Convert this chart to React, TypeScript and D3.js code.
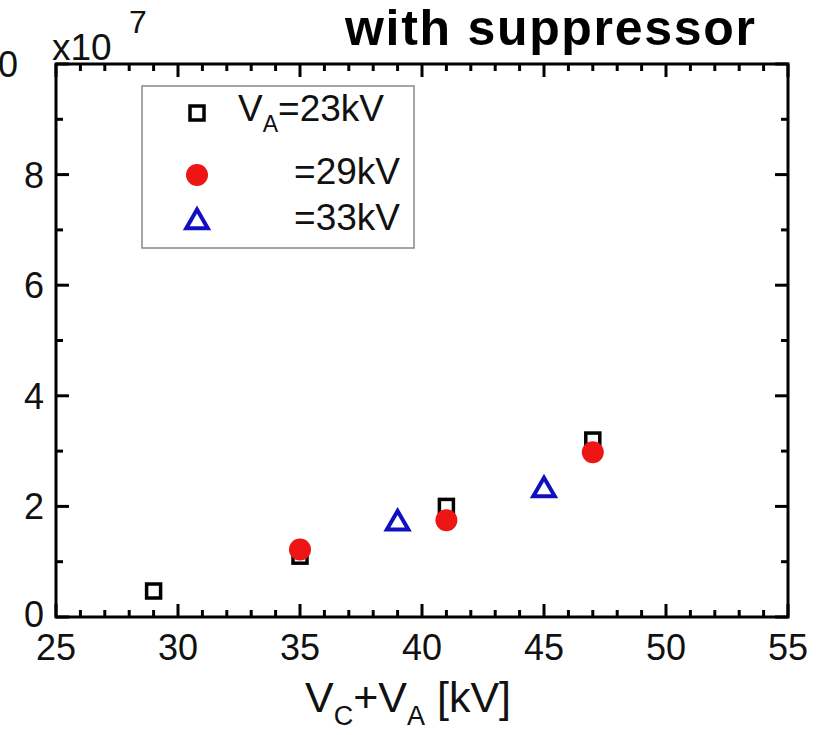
import React from 'react';
import * as d3 from 'd3';

// values (y in units of 1e7)
const va23X = [29, 35, 41, 47];
const va23Y = [0.47, 1.1, 2.0, 3.2];
const va29X = [35, 41, 47];
const va29Y = [1.22, 1.75, 2.98];
const va33X = [39, 45];
const va33Y = [1.73, 2.33];

const xTicks = [25, 30, 35, 40, 45, 50, 55];
const yTicks = [0, 2, 4, 6, 8, 10];

const W = 827, H = 735;
const left = 56, right = 788, top = 64, bottom = 617;
const font = "'Liberation Sans', Arial, sans-serif";

export default function App() {
  const x = d3.scaleLinear().domain([25, 55]).range([left, right]);
  const y = d3.scaleLinear().domain([0, 10]).range([bottom, top]);

  const xMinor = d3.range(25, 56, 1);
  const yMinor = d3.range(0, 11, 1);

  const tri = d3.symbol().type(d3.symbolTriangle).size(200)();

  const square = (cx: number, cy: number, key: string) => (
    <rect key={key} x={cx - 7} y={cy - 7} width={14} height={14}
      fill="white" stroke="black" strokeWidth={3.5} />
  );
  const circle = (cx: number, cy: number, key: string) => (
    <circle key={key} cx={cx} cy={cy} r={11} fill="#ee1515" />
  );
  const triangle = (cx: number, cy: number, key: string) => (
    <path key={key} d={tri as string} transform={`translate(${cx},${cy + 2})`}
      fill="white" stroke="#1010c0" strokeWidth={4} strokeLinejoin="miter" />
  );

  return (
    <>
      <style>{`body{margin:0}`}</style>
      <svg width={W} height={H} style={{ display: 'block', background: 'white' }} fontFamily={font}>
        {/* title */}
        <text x={345} y={45} fontSize={50} fontWeight="bold" textLength={410}>with suppressor</text>

        {/* minor + major ticks, inward on all sides */}
        {xMinor.map(v => {
          const major = v % 5 === 0;
          const len = major ? 13 : 7;
          return (
            <g key={'xt' + v} stroke="black" strokeWidth={3}>
              <line x1={x(v)} x2={x(v)} y1={bottom} y2={bottom - len} />
              <line x1={x(v)} x2={x(v)} y1={top} y2={top + len} />
            </g>
          );
        })}
        {yMinor.map(v => {
          const major = v % 2 === 0;
          const len = major ? 13 : 7;
          return (
            <g key={'yt' + v} stroke="black" strokeWidth={3}>
              <line x1={left} x2={left + len} y1={y(v)} y2={y(v)} />
              <line x1={right} x2={right - len} y1={y(v)} y2={y(v)} />
            </g>
          );
        })}

        {/* frame */}
        <rect x={left} y={top} width={right - left} height={bottom - top}
          fill="none" stroke="black" strokeWidth={3} />

        {/* tick labels */}
        {xTicks.map(v => (
          <text key={'xl' + v} x={x(v)} y={660} fontSize={36} textAnchor="middle" fill="#111">{v}</text>
        ))}
        {yTicks.map(v => (
          <text key={'yl' + v} x={v === 10 ? 18 : 44} y={y(v) + (v === 0 ? 10 : 13)} fontSize={36}
            textAnchor="end" fill="#111">{v}</text>
        ))}

        {/* multiplier */}
        <text x={52} y={60} fontSize={37} fill="#111">x10</text>
        <text x={129} y={33} fontSize={32} fill="#111">7</text>

        {/* x axis label */}
        <text x={305} y={712} fontSize={43} fill="#111">
          V<tspan fontSize={27} dy={13}>C</tspan>
          <tspan dy={-13}>+V</tspan>
          <tspan fontSize={27} dy={13}>A</tspan>
          <tspan dy={-13}> [kV]</tspan>
        </text>

        {/* legend */}
        <rect x={142} y={86} width={272} height={162} fill="white" stroke="#888" strokeWidth={1.5} />
        {square(197, 113, 'lg1')}
        {circle(197, 175, 'lg2')}
        {triangle(197, 220, 'lg3')}
        <text x={238} y={121} fontSize={37} fill="#111">
          V<tspan fontSize={23} dy={11}>A</tspan><tspan dy={-11}>=23kV</tspan>
        </text>
        <text x={400} y={184} fontSize={37} textAnchor="end" fill="#111">=29kV</text>
        <text x={400} y={230} fontSize={37} textAnchor="end" fill="#111">=33kV</text>

        {/* data */}
        {va23X.map((v, i) => square(x(v), y(va23Y[i]), 's' + i))}
        {va29X.map((v, i) => circle(x(v), y(va29Y[i]), 'c' + i))}
        {va33X.map((v, i) => triangle(x(v), y(va33Y[i]), 't' + i))}
      </svg>
    </>
  );
}
